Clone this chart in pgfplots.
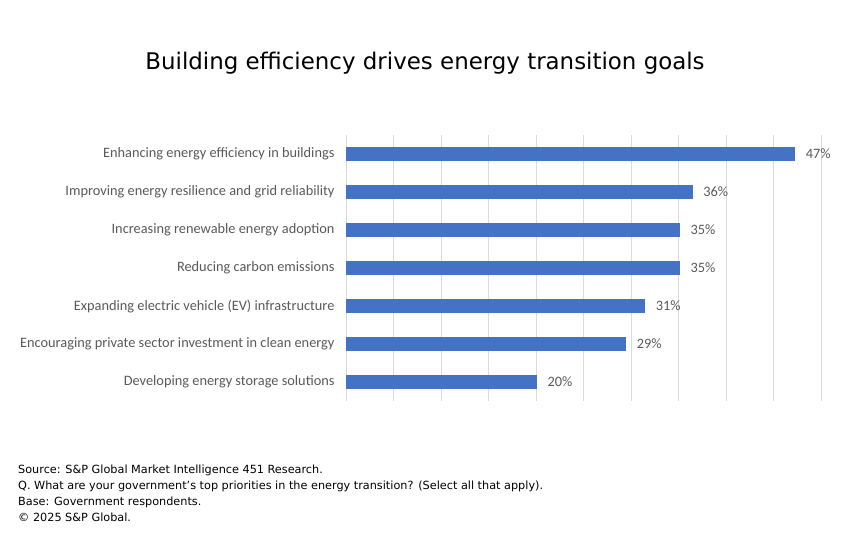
\documentclass[border=0pt]{standalone}
\usepackage{fontspec}
\setmainfont{DejaVu Sans}
\newfontfamily\carlito{Carlito}
\usepackage{pgfplots}
\pgfplotsset{compat=1.18}
\definecolor{barblue}{HTML}{4472C4}
\definecolor{labgrey}{HTML}{595959}
\definecolor{gridgrey}{HTML}{D9D9D9}
\begin{document}
\begin{tikzpicture}[x=1bp,y=1bp]
\path[use as bounding box] (0,0) rectangle (850,537);
\node[anchor=base,font=\fontsize{23}{27}\selectfont] at (425,467) {Building efficiency drives energy transition goals};
\begin{axis}[
  at={(346bp,136bp)}, anchor=south west,
  scale only axis, width=475bp, height=266bp,
  xbar, bar width=13bp,
  xmin=0, xmax=50,
  ymin=-0.5, ymax=6.5, y dir=reverse,
  xtick={0,5,...,50}, xticklabels={},
  xmajorgrids, grid style={gridgrey, line width=0.8pt},
  major tick length=0pt,
  axis line style={draw=none},
  ytick={0,...,6},
  yticklabels={Enhancing energy efficiency in buildings,
    Improving energy resilience and grid reliability,
    Increasing renewable energy adoption,
    Reducing carbon emissions,
    Expanding electric vehicle (EV) infrastructure,
    Encouraging private sector investment in clean energy,
    Developing energy storage solutions},
  yticklabel style={font=\carlito\fontsize{14.4}{17}\selectfont, text=labgrey, xshift=-8bp},
  nodes near coords={\pgfmathprintnumber[fixed,precision=0,assume math mode=true]{\pgfplotspointmeta}\%},
  point meta=x,
  nodes near coords style={font=\carlito\fontsize{14.4}{17}\selectfont, text=labgrey, xshift=8bp},
]
\addplot[fill=barblue, draw=barblue] coordinates {
(47.2,0) (36.4,1) (35.05,2) (35.05,3) (31.4,4) (29.4,5) (20.0,6)
};
\end{axis}
\begin{scope}[every node/.style={anchor=base west, inner sep=0pt, font=\fontsize{11.3}{13}\selectfont}]
\node at (18,63) {Source: S\&P Global Market Intelligence 451 Research.};
\node at (18,47) {Q. What are your government's top priorities in the energy transition? (Select all that apply).};
\node at (18,31) {Base: Government respondents.};
\node at (18,15) {\textcopyright{} 2025 S\&P Global.};
\end{scope}
\end{tikzpicture}
\end{document}
